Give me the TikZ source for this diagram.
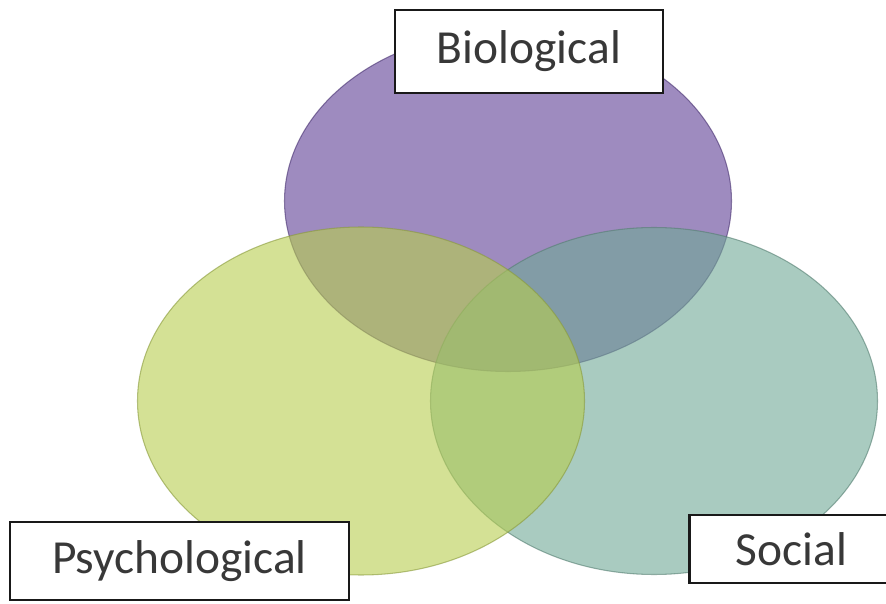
\documentclass[tikz,border=0pt]{standalone}
\usepackage{fontspec}
\setmainfont{Carlito}
\usepackage{tikz}
\usetikzlibrary{positioning}
\definecolor{biocol}{HTML}{5D3E94}
\definecolor{psycol}{HTML}{B7CD4E}
\definecolor{soccol}{HTML}{70A896}
\definecolor{textgray}{HTML}{383838}
\begin{document}
\begin{tikzpicture}[
  venn/.style={fill=#1, draw=#1!75!black, line width=0.6pt, fill opacity=0.6, draw opacity=0.6},
  labelbox/.style={draw=black!90, line width=1.6pt, fill=white, text=textgray,
    font=\fontsize{27}{32}\selectfont, inner sep=0pt, anchor=center}
]
\useasboundingbox (0,0) rectangle (17.72,12.06);
\draw[venn=biocol] (10.16,8.04) ellipse [x radius=4.47, y radius=3.41];
\draw[venn=soccol] (13.08,4.04) ellipse [x radius=4.47, y radius=3.47];
\draw[venn=psycol] (7.22,4.04) ellipse [x radius=4.47, y radius=3.48];
\node[labelbox, minimum width=5.36cm, minimum height=1.66cm] (bio) at (10.58,11.03) {Biological};
\node[labelbox, minimum width=6.78cm, minimum height=1.56cm] (psy) at (3.59,0.84) {Psychological};
\node[labelbox, anchor=west, text width=6cm, align=left, minimum height=1.36cm] (soc) at (13.76,1.08) {\hspace*{0.93cm}Social};
\end{tikzpicture}
\end{document}
